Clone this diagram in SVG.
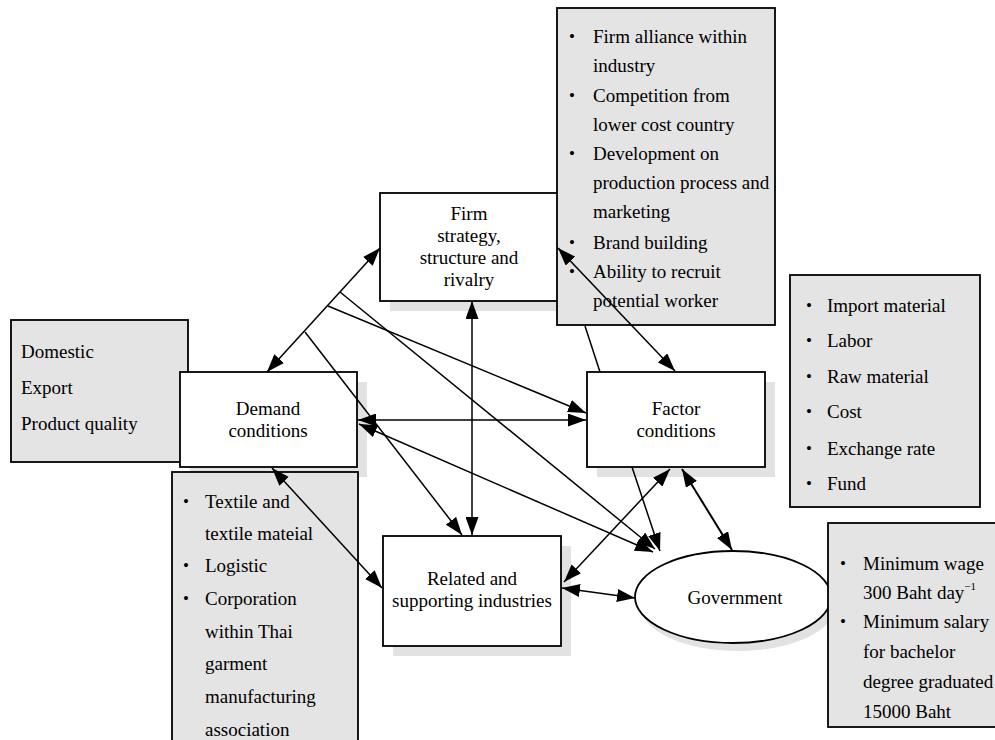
<svg xmlns="http://www.w3.org/2000/svg" width="995" height="740" viewBox="0 0 995 740">
<defs>
<marker id="ah" viewBox="0 0 18 13" refX="18" refY="6.5" markerWidth="18" markerHeight="13" markerUnits="userSpaceOnUse" orient="auto-start-reverse">
<path d="M0,0 L18,6.5 L0,13 z" fill="#000"/>
</marker>
<style>
text{font-family:"Liberation Serif","Times New Roman",serif;font-size:19px;fill:#000}
.c{text-anchor:middle}
.b{font-size:17px}
.node{fill:#fff;stroke:#000;stroke-width:1.8}
.note{fill:#e4e4e4;stroke:#000;stroke-width:1.8}
.sh{fill:#e2e2e2}
.ln{fill:none;stroke:#000;stroke-width:1.5}
.t{stroke-width:2}
.d{marker-start:url(#ah);marker-end:url(#ah)}
.e{marker-end:url(#ah)}
</style>
</defs>
<rect width="995" height="740" fill="#fff"/>

<g id="firm">
<rect class="sh" x="390" y="203" width="178" height="108"/>
<rect class="node" x="380" y="193" width="178" height="108"/>
<text class="c" x="469" y="220">Firm</text>
<text class="c" x="469" y="242">strategy,</text>
<text class="c" x="469" y="264">structure and</text>
<text class="c" x="469" y="286">rivalry</text>
</g>

<g id="firm-notes">
<rect class="note" x="557" y="8" width="218" height="317"/>
<text class="b" x="569" y="42">•</text><text x="593" y="43">Firm alliance within</text>
<text x="593" y="72">industry</text>
<text class="b" x="569" y="101">•</text><text x="593" y="102">Competition from</text>
<text x="593" y="131">lower cost country</text>
<text class="b" x="569" y="159">•</text><text x="593" y="160">Development on</text>
<text x="593" y="189">production process and</text>
<text x="593" y="218">marketing</text>
<text class="b" x="569" y="248">•</text><text x="593" y="249">Brand building</text>
<text class="b" x="569" y="277">•</text><text x="593" y="278">Ability to recruit</text>
<text x="593" y="307">potential worker</text>
</g>

<g id="demand-notes">
<rect class="note" x="11" y="320" width="177" height="142"/>
<text x="21" y="358">Domestic</text>
<text x="21" y="394">Export</text>
<text x="21" y="430">Product quality</text>
</g>

<g id="demand">
<rect class="sh" x="190" y="382" width="177" height="95"/>
<rect class="node" x="180" y="372" width="177" height="95"/>
<text class="c" x="268" y="415">Demand</text>
<text class="c" x="268" y="437">conditions</text>
</g>

<g id="related-notes">
<rect class="note" x="172" y="472" width="186" height="280"/>
<text class="b" x="183" y="507">•</text><text x="205" y="508">Textile and</text>
<text x="205" y="540">textile mateial</text>
<text class="b" x="183" y="571">•</text><text x="205" y="572">Logistic</text>
<text class="b" x="183" y="604">•</text><text x="205" y="605">Corporation</text>
<text x="205" y="638">within Thai</text>
<text x="205" y="670">garment</text>
<text x="205" y="703">manufacturing</text>
<text x="205" y="736">association</text>
</g>

<g id="related">
<rect class="sh" x="393" y="546" width="178" height="110"/>
<rect class="node" x="383" y="536" width="178" height="110"/>
<text class="c" x="472" y="585">Related and</text>
<text class="c" x="472" y="607">supporting industries</text>
</g>

<g id="factor">
<rect class="sh" x="597" y="382" width="178" height="95"/>
<rect class="node" x="587" y="372" width="178" height="95"/>
<text class="c" x="676" y="415">Factor</text>
<text class="c" x="676" y="437">conditions</text>
</g>

<g id="factor-notes">
<rect class="note" x="790" y="275" width="190" height="232"/>
<text class="b" x="806" y="311">•</text><text x="827" y="312">Import material</text>
<text class="b" x="806" y="346">•</text><text x="827" y="347">Labor</text>
<text class="b" x="806" y="382">•</text><text x="827" y="383">Raw material</text>
<text class="b" x="806" y="417">•</text><text x="827" y="418">Cost</text>
<text class="b" x="806" y="454">•</text><text x="827" y="455">Exchange rate</text>
<text class="b" x="806" y="489">•</text><text x="827" y="490">Fund</text>
</g>

<g id="government">
<ellipse class="sh" cx="738" cy="605" rx="98" ry="46"/>
<ellipse class="node" cx="733" cy="597" rx="98" ry="46"/>
<text class="c" x="735" y="604">Government</text>
</g>

<g id="government-notes">
<rect class="note" x="828" y="523" width="170" height="204"/>
<text class="b" x="840" y="569">•</text><text x="863" y="570">Minimum wage</text>
<text x="863" y="599">300 Baht day<tspan font-size="11" dy="-9">−1</tspan></text>
<text class="b" x="840" y="627">•</text><text x="863" y="628">Minimum salary</text>
<text x="863" y="658">for bachelor</text>
<text x="863" y="688">degree graduated</text>
<text x="863" y="718">15000 Baht</text>
</g>

<g id="connectors">
<path class="ln d" d="M380,248 L267,372"/>
<path class="ln e" d="M340,292 L655,549"/>
<path class="ln e" d="M328,306 L586,413"/>
<path class="ln e" d="M305,332 L462,535"/>
<path class="ln d" d="M472,301 L472,535"/>
<path class="ln d" d="M358,420 L586,420"/>
<path class="ln d" d="M359,424 L653,552"/>
<path class="ln d" d="M558,248 L675,371"/>
<path class="ln e" d="M585,326 L600,372 M632,467 L660,551"/>
<path class="ln d" d="M670,469 L564,582"/>
<path class="ln d t" d="M682,469 L732,550"/>
<path class="ln d" d="M562,588 L635,598"/>
<path class="ln d" d="M272,468 L382,588"/>
</g>
</svg>
